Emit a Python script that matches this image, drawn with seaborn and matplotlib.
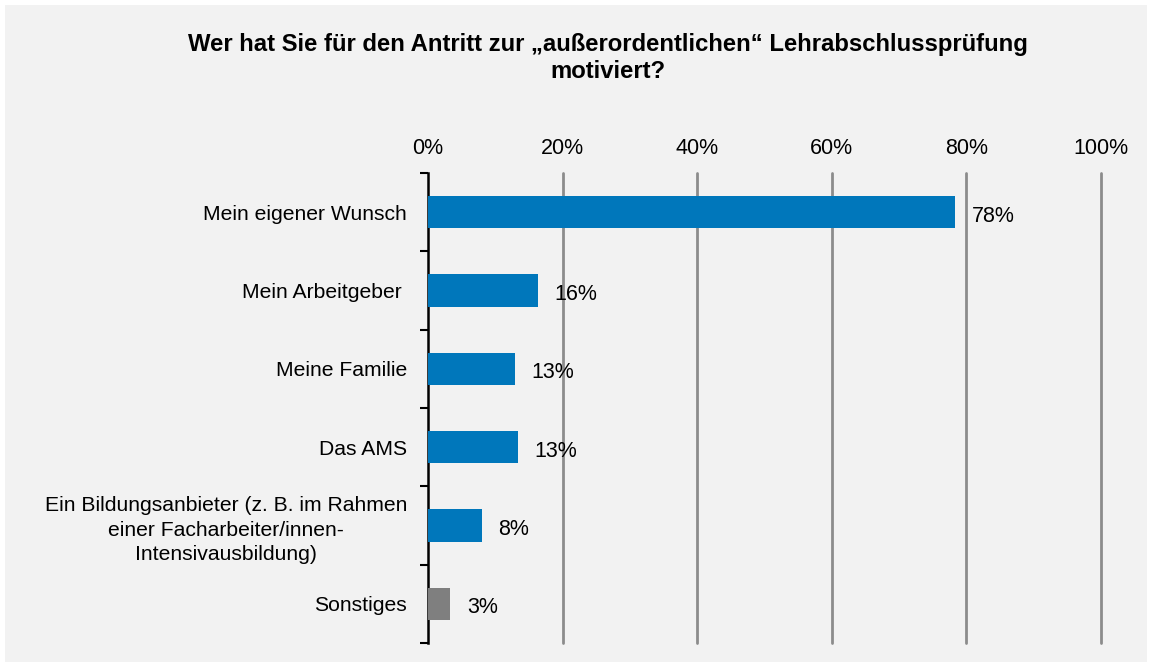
import numpy as np
import pandas as pd
import matplotlib.pyplot as plt
import matplotlib.patches as mpatches
import seaborn as sns

sns.set_theme(style="white")
plt.rcParams["font.family"] = ["Liberation Sans", "DejaVu Sans"]

categories = [
    "Mein eigener Wunsch",
    "Mein Arbeitgeber ",
    "Meine Familie",
    "Das AMS",
    "Ein Bildungsanbieter (z. B. im Rahmen\neiner Facharbeiter/innen-\nIntensivausbildung)",
    "Sonstiges",
]
values = [78.3, 16.3, 12.9, 13.4, 8.0, 3.3]
value_labels = ["78%", "16%", "13%", "13%", "8%", "3%"]
bar_colors = ["#0077BB", "#0077BB", "#0077BB", "#0077BB", "#0077BB", "#7F7F7F"]
x_ticks = [0, 20, 40, 60, 80, 100]
title = "Wer hat Sie für den Antritt zur „außerordentlichen“ Lehrabschlussprüfung\nmotiviert?"

df = pd.DataFrame({"kategorie": categories, "wert": values})
bg = "#F2F2F2"

fig = plt.figure(figsize=(11.5, 6.66), dpi=100, facecolor="white")
fig.patches.append(mpatches.Rectangle((5 / 1150, 4 / 666), 1142 / 1150, 657 / 666,
                                      transform=fig.transFigure, facecolor=bg,
                                      edgecolor="none", zorder=-1))
ax = fig.add_axes([428 / 1150, 1 - 643 / 666, 673 / 1150, 470 / 666])
ax.patch.set_alpha(0)

sns.barplot(data=df, x="wert", y="kategorie", hue="kategorie", palette=bar_colors,
            legend=False, width=0.41, ax=ax, orient="h", saturation=1,
            edgecolor="none", linewidth=0, zorder=3)

for i, (v, lab) in enumerate(zip(values, value_labels)):
    ax.annotate(lab, (v, i), xytext=(12, -3), textcoords="offset points",
                ha="left", va="center", fontsize=15.5, color="black", zorder=4)

ax.set_xlim(0, 100)
ax.set_ylim(len(categories) - 0.5, -0.5)
ax.set_xticks(x_ticks)
ax.set_xticklabels([f"{t}%" for t in x_ticks], fontsize=15.5, color="black")
ax.xaxis.tick_top()
ax.tick_params(axis="x", length=0, pad=10)
for t in x_ticks[1:]:
    ax.axvline(t, color="#8C8C8C", linewidth=2, zorder=1, clip_on=False)

ax.set_yticks(range(len(categories)))
ax.set_yticklabels(categories, fontsize=15.2, color="black", multialignment="center")
for lab in ax.get_yticklabels():
    lab.set_linespacing(1.35)
ax.set_yticks(np.arange(-0.5, len(categories), 1), minor=True)
ax.tick_params(axis="y", which="major", length=0, pad=15)
ax.tick_params(axis="y", which="minor", length=6, width=1.5, color="black", left=True)

for s in ["top", "right", "bottom"]:
    ax.spines[s].set_visible(False)
ax.spines["left"].set_color("black")
ax.spines["left"].set_linewidth(1.8)
ax.set_xlabel("")
ax.set_ylabel("")

fig.text(608 / 1150, 1 - 58 / 666, title, ha="center", va="center", fontsize=17.2,
         fontweight="bold", linespacing=1.2, color="black")

fig.savefig("out.png", dpi=100, facecolor="white")
